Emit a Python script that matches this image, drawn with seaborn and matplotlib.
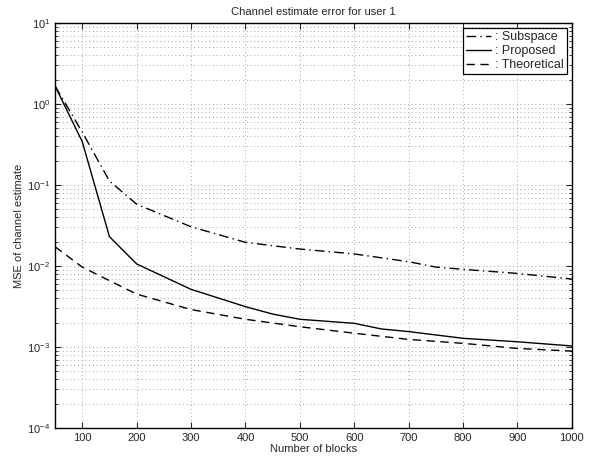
import matplotlib
matplotlib.use("Agg")
import matplotlib.pyplot as plt
import seaborn as sns
import numpy as np
import pandas as pd

# values
blocks_sub = [50, 100, 150, 200, 300, 400, 500, 600, 700, 750, 800, 900, 1000]
mse_sub = [1.67, 0.45, 0.112, 0.058, 0.0305, 0.0196, 0.0162, 0.0141, 0.0113,
           0.0097, 0.0091, 0.0081, 0.0069]

blocks_prop = [50, 100, 150, 200, 300, 400, 450, 500, 600, 650, 700, 800, 900, 1000]
mse_prop = [1.67, 0.343, 0.023, 0.0106, 0.00515, 0.00315, 0.00255, 0.0022,
            0.00196, 0.00167, 0.00155, 0.00128, 0.00116, 0.00103]

blocks_theo = [50, 100, 150, 200, 300, 400, 500, 600, 700, 800, 900, 1000]
mse_theo = [0.0173, 0.0097, 0.0066, 0.0045, 0.0029, 0.0022, 0.00178, 0.00148,
            0.00124, 0.00111, 0.00096, 0.00089]

labels = [": Subspace", ": Proposed", ": Theoretical"]
x_ticks = [100, 200, 300, 400, 500, 600, 700, 800, 900, 1000]

sns.set_style("ticks")
plt.rcParams['font.family'] = ['Liberation Sans', 'DejaVu Sans']
plt.rcParams['font.size'] = 8
plt.rcParams['mathtext.default'] = 'regular'

fig = plt.figure(figsize=(5.92, 4.61), dpi=100)
ax = fig.add_axes([0.093, 0.0716, 0.873, 0.8784])

series = [
    (blocks_sub, mse_sub, labels[0], (0, (7, 3, 1, 3))),
    (blocks_prop, mse_prop, labels[1], '-'),
    (blocks_theo, mse_theo, labels[2], (0, (6, 4))),
]
for xs, ys, lab, ls in series:
    df = pd.DataFrame({"blocks": xs, "mse": ys})
    sns.lineplot(data=df, x="blocks", y="mse", ax=ax, color='k', lw=1.0,
                 linestyle=ls, label=lab)

ax.set_yscale('log')
ax.set_xlim(50, 1000)
ax.set_ylim(1e-4, 10)
ax.set_xticks(x_ticks)
ax.set_xticklabels([str(t) for t in x_ticks])

# matlab style dotted grid
grid_kw = dict(linestyle=(0, (1, 3.5)), color='#8a8a8a', lw=0.6)
ax.grid(True, which='major', **grid_kw)
ax.grid(True, which='minor', axis='y', **grid_kw)

ax.tick_params(which='both', direction='in', top=True, right=True, labelsize=8)
ax.tick_params(which='major', length=4)
ax.tick_params(which='minor', length=2)
for sp in ax.spines.values():
    sp.set_linewidth(1.0)
    sp.set_color('k')

ax.set_title("Channel estimate error for user 1", fontsize=8, pad=6)
ax.set_xlabel("Number of blocks", fontsize=8, labelpad=1)
ax.set_ylabel("MSE of channel estimate", fontsize=8, labelpad=2)

leg = ax.legend(loc='upper right', fontsize=9, frameon=True, fancybox=False,
                edgecolor='k', handlelength=2.0, handletextpad=0.3,
                borderpad=0.25, labelspacing=0.15, borderaxespad=0.4)
leg.get_frame().set_linewidth(0.9)
leg.get_frame().set_alpha(1.0)

fig.savefig("out.png", dpi=100)
